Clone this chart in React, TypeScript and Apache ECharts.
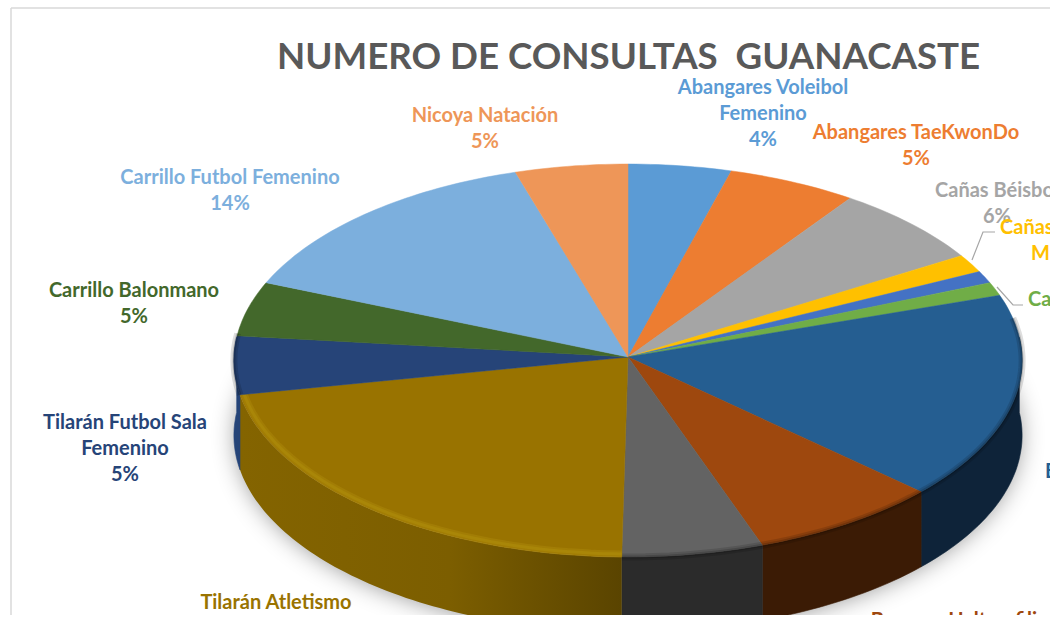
import React, { useEffect, useRef } from "react";
import * as echarts from "echarts";

const titleText = "NUMERO DE CONSULTAS  GUANACASTE";
const categories = [
  "Abangares Voleibol Femenino", "Abangares TaeKwonDo", "Cañas Béisbol", "Cañas M", "Cañas", "Ca",
  "B", "Bagaces Halterofilia", "Gris", "Tilarán Atletismo", "Tilarán Futbol Sala Femenino",
  "Carrillo Balonmano", "Carrillo Futbol Femenino", "Nicoya Natación",
];
const sliceValues = [4.3, 5.4, 6.6, 1.5, 1.0, 1.1, 17.0, 7.7, 5.7, 21.7, 4.8, 4.5, 14.1, 4.7];
const topColors = ["#5B9BD5", "#ED7D31", "#A5A5A5", "#FFC000", "#4472C4", "#70AD47", "#255E91", "#9E480E", "#636363", "#997300", "#264478", "#43682B", "#7CAFDD", "#EE9658"];
const wallColors = ["#3a6a96", "#a35620", "#707070", "#ad8300", "#2e4d85", "#4c7630", "#0E2339", "#3B1B05", "#2B2B2B", "#7F6000", "#254478", "#2d461c", "#5a86ad", "#a8683c"];
const labelLines = [
  ["Abangares Voleibol", "Femenino", "4%"], ["Abangares TaeKwonDo", "5%"], ["Cañas Béisbol", "6%"],
  ["Cañas", "M"], [], ["Ca"], ["B"], ["Bagaces Halterofilia"], [],
  ["Tilarán Atletismo"], ["Tilarán Futbol Sala", "Femenino", "5%"], ["Carrillo Balonmano", "5%"],
  ["Carrillo Futbol Femenino", "14%"], ["Nicoya Natación", "5%"],
];
const labelColors = ["#5B9BD5", "#ED7D31", "#A5A5A5", "#FFC000", "#4472C4", "#70AD47", "#255E91", "#9E480E", "#636363", "#997300", "#264478", "#43682B", "#7CAFDD", "#EE9658"];

// layout only
const CX = 628, CY = 357, RX = 394, RY = 196.4, TILT = 0.0178, DEPTH = 75;
const labelAnchor: [number, number, string][] = [
  [763, 86, "center"], [916, 131, "center"], [997, 189, "center"], [1000, 226, "left"], [0, 0, "left"],
  [1028, 298, "left"], [1045, 470, "left"], [959, 619, "center"], [0, 0, "left"], [276, 601, "center"],
  [125, 421, "center"], [134, 289, "center"], [230, 176, "center"], [485, 114, "center"],
];
const LINE_H = 26;
const FONT = "Lato, Carlito, sans-serif";

const total = sliceValues.reduce((a, b) => a + b, 0);
const starts: number[] = [];
sliceValues.reduce((acc, v, i) => { starts[i] = acc; return acc + (v / total) * Math.PI * 2; }, 0);
const endOf = (i: number) => starts[i] + (sliceValues[i] / total) * Math.PI * 2;
const rim = (t: number, dy = 0, k = 1): [number, number] => {
  const w = 1 + TILT * Math.cos(t);
  return [CX + (RX * k * Math.sin(t)) / w, CY - (RY * k * Math.cos(t)) / w + dy];
};
const arcPts = (a: number, b: number, dy = 0, k = 1) => {
  const n = Math.max(2, Math.ceil(Math.abs(b - a) / 0.02));
  const p: [number, number][] = [];
  for (let j = 0; j <= n; j++) p.push(rim(a + ((b - a) * j) / n, dy, k));
  return p;
};
const toPath = (p: [number, number][]) => "M" + p.map((q) => q[0].toFixed(1) + " " + q[1].toFixed(1)).join("L") + "Z";
const toOpen = (p: [number, number][]) => "M" + p.map((q) => q[0].toFixed(1) + " " + q[1].toFixed(1)).join("L");

export default function App() {
  const ref = useRef<HTMLDivElement>(null);
  useEffect(() => {
    document.body.style.margin = "0";
    const chart = echarts.init(ref.current!, undefined, { renderer: "svg" });
    const data = sliceValues.map((v, i) => ({ name: categories[i], value: v }));
    const renderWall = (params: any) => {
      const i = params.dataIndex;
      const a = Math.max(starts[i], Math.PI / 2 - 0.1), b = Math.min(endOf(i), (3 * Math.PI) / 2 + 0.1);
      if (b <= a) return { type: "group", children: [] };
      const top = arcPts(a, b), bottom = arcPts(b, a, DEPTH);
      const shade = wallColors[i];
      return {
        type: "path",
        shape: { pathData: toPath([...top, ...bottom]) },
        style: {
          fill: i === 9
            ? new echarts.graphic.LinearGradient(0, 0, 1, 0, [{ offset: 0, color: "#846400" }, { offset: 0.55, color: "#7c5e00" }, { offset: 1, color: "#5a4400" }])
            : shade,
          stroke: i === 9 ? "none" : shade,
          lineWidth: 0.6,
        },
      };
    };
    const renderTop = (params: any) => {
      const i = params.dataIndex;
      const a = starts[i], b = endOf(i);
      const pts = [[CX, CY] as [number, number], ...arcPts(a, b)];
      const children: any[] = [
        { type: "path", shape: { pathData: toPath(pts) }, style: { fill: topColors[i], stroke: topColors[i], lineWidth: 0.5 } },
      ];
      // bevelled edge on the near half of the rim
      const ba = Math.max(a, Math.PI / 2 - 0.2), bb = Math.min(b, (3 * Math.PI) / 2 + 0.12);
      if (bb > ba) {
        const gold = i === 9;
        const rimPath = toOpen(arcPts(ba, bb, gold ? -1 : 0, gold ? 0.99 : 1));
        children.push(
          { type: "path", shape: { pathData: rimPath }, style: { fill: "none", stroke: gold ? "rgba(172,138,12,0.45)" : "rgba(0,0,0,0.13)", lineWidth: 7 } },
          { type: "path", shape: { pathData: rimPath }, style: { fill: "none", stroke: gold ? "#A98608" : "rgba(0,0,0,0.16)", lineWidth: 3 } },
        );
      }
      return { type: "group", children };
    };
    const renderLabel = (params: any) => {
      const i = params.dataIndex;
      const [x, y, align] = labelAnchor[i];
      return {
        type: "group",
        children: labelLines[i].map((t, k) => ({
          type: "text",
          style: { x: x + (i === 3 && k === 1 ? 31 : 0), y: y + k * LINE_H, text: t, fill: labelColors[i], font: `bold 20px ${FONT}`, textAlign: align, textVerticalAlign: "middle" },
        })),
      };
    };
    chart.setOption({
      animation: false,
      backgroundColor: "#ffffff",
      title: {
        text: titleText, left: 272, top: 31,
        textStyle: { color: "#595959", fontSize: 36.7, fontWeight: "bold", fontFamily: FONT },
      },
      graphic: [
        { type: "line", z: 0, shape: { x1: 11, y1: 8, x2: 1050, y2: 8 }, style: { stroke: "#D9D9D9", lineWidth: 1.5 } },
        { type: "line", z: 0, shape: { x1: 11, y1: 8, x2: 11, y2: 617 }, style: { stroke: "#D9D9D9", lineWidth: 1.5 } },
        { type: "ellipse", z: 1, shape: { cx: CX, cy: CY + DEPTH + 3.5, rx: RX - 3, ry: RY - 1 }, style: { fill: "#cccccc", shadowBlur: 24, shadowColor: "rgba(0,0,0,0.45)" } },
        { type: "polyline", z: 5, shape: { points: [[972, 260], [983, 232], [995, 232]] }, style: { stroke: "#A6A6A6", lineWidth: 1.2, fill: "none" } },
        { type: "polyline", z: 5, shape: { points: [[997, 287], [1013, 305], [1023, 305]] }, style: { stroke: "#A6A6A6", lineWidth: 1.2, fill: "none" } },
      ],
      series: [
        { type: "custom", coordinateSystem: "none", z: 2, data, renderItem: renderWall },
        { type: "custom", coordinateSystem: "none", z: 3, data, renderItem: renderTop },
        { type: "custom", coordinateSystem: "none", z: 6, data, renderItem: renderLabel },
      ],
    });
    return () => chart.dispose();
  }, []);
  return <div ref={ref} style={{ width: 1050, height: 615, overflow: "hidden" }} />;
}
